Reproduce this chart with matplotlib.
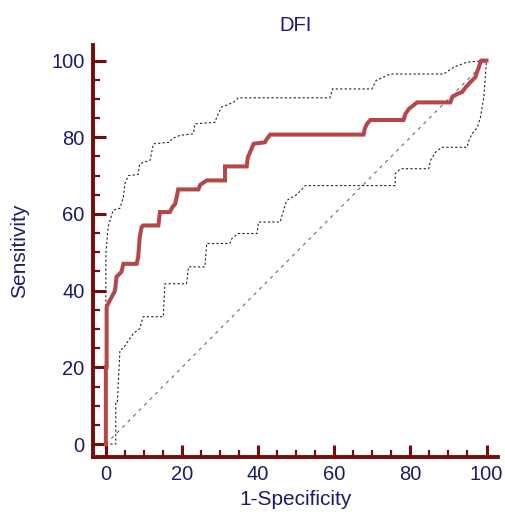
import matplotlib
matplotlib.use("Agg")
import matplotlib.pyplot as plt
from matplotlib.ticker import MultipleLocator

plt.rcParams['font.family'] = ['Liberation Sans', 'DejaVu Sans']

# ROC curve vertices (1-Specificity, Sensitivity)
roc_x = [0, 0, 0.2, 0.2, 0.8, 1.5, 2.4, 2.8, 4.1, 4.6, 8.1, 8.5, 8.9, 9.4, 9.8, 13.8,
         14.2, 16.8, 17.5, 18.2, 18.6, 19, 24.3, 24.8, 26.5, 31.3, 31.3, 37, 37.3,
         37.9, 38.8, 41.8, 42.3, 43.2, 67.7, 68.0, 68.6, 69.5, 78.2, 78.7, 79.6, 81.8,
         90.5, 91.0, 92.3, 93.6, 94.5, 95.8, 97.1, 97.5, 98.0, 98.4, 98.6, 100]
roc_y = [0, 20, 20, 35.7, 37, 38.3, 40, 43.6, 44.9, 47, 47, 48.8, 54, 56.6, 57, 57,
         60.5, 60.5, 61.8, 62.6, 64.4, 66.4, 66.4, 67.6, 68.75, 68.75, 72.4, 72.4, 74.8,
         76.1, 78.3, 78.7, 79.6, 80.7, 80.7, 82.2, 83.5, 84.5, 84.5, 86.1, 87.4, 89.1,
         89.1, 90.5, 91.3, 91.8, 93, 94.4, 95.7, 97, 98.3, 99.6, 100, 100]

# upper 95% confidence bound
upper_x = [0, 0, 0.6, 1.9, 3.7, 4.6, 5.0, 5.9, 8.5, 8.9, 11.6, 12.5, 16.8, 17.3, 19.5,
           23.0, 23.4, 28.7, 29.1, 30.4, 31.5, 33.5, 34.8, 58.9, 59.5, 69.9, 71.0,
           74.7, 88.8, 91.4, 94.9, 100]
upper_y = [0, 49.7, 56.6, 61, 61.5, 64.4, 67.9, 70, 70.3, 73.1, 74, 78.3, 78.7, 79.6,
           80.5, 80.9, 83.5, 83.9, 85.2, 87.9, 88.3, 89.1, 90.3, 90.3, 92.6, 92.6, 94.8,
           96.5, 96.5, 98.3, 99.6, 100]

# lower 95% confidence bound
lower_x = [0, 2.6, 2.6, 3.0, 3.7, 4.6, 5.4, 7.2, 8.9, 9.8, 15.1, 15.5, 21.2, 21.7, 26.0,
           26.5, 32.6, 33.1, 34.8, 39.7, 40.1, 45.8, 46.7, 47.5, 50.2, 52.4, 76.0, 76.0,
           77.4, 84.8, 85.3, 86.6, 88.3, 94.9, 95.4, 96.2, 97.6, 98.4, 99.3, 100]
lower_y = [0, 0, 10.6, 10.6, 24.5, 25, 26.2, 28.8, 30.1, 33.2, 33.2, 41.8, 41.8, 46.2,
           46.2, 52.3, 52.3, 53.6, 54.9, 54.9, 57.9, 57.9, 61.0, 63.5, 65.1, 67.4, 67.4,
           70.5, 71.8, 71.8, 74.0, 76.1, 77.4, 77.4, 79.2, 80.9, 82.6, 85.2, 90.5, 100]

diag = [0, 100]

navy = '#1c1c6c'
spine_col = '#7a0a0a'

fig = plt.figure(figsize=(5.05, 5.20), dpi=100)
ax = fig.add_axes([0.184, 0.121, 0.802, 0.792])

ax.plot(diag, diag, color='#6a6a6a', lw=0.8, dashes=(3, 4))
ax.plot(upper_x, upper_y, color='#222222', lw=0.8, dashes=(2, 2))
ax.plot(lower_x, lower_y, color='#222222', lw=0.8, dashes=(2, 2))
ax.plot(roc_x, roc_y, color='#b5464a', lw=2.9, solid_joinstyle='miter')

ax.set_xlim(-3.4, 103)
ax.set_ylim(-3.4, 104)

ax.spines['top'].set_visible(False)
ax.spines['right'].set_visible(False)
for s in ['left', 'bottom']:
    ax.spines[s].set_color(spine_col)
    ax.spines[s].set_linewidth(2.8)

ax.xaxis.set_major_locator(MultipleLocator(20))
ax.xaxis.set_minor_locator(MultipleLocator(5))
ax.yaxis.set_major_locator(MultipleLocator(20))
ax.yaxis.set_minor_locator(MultipleLocator(5))
ax.tick_params(which='major', direction='in', length=9, width=2.2, color=spine_col,
               labelcolor=navy, labelsize=14.5, pad=6)
ax.tick_params(which='minor', direction='in', length=5, width=1.6, color=spine_col)

ax.set_title('DFI', color=navy, fontsize=14.5, pad=10)
ax.set_xlabel('1-Specificity', color=navy, fontsize=15, labelpad=4)
ax.set_ylabel('Sensitivity', color=navy, fontsize=15, labelpad=16)

fig.savefig('out.png', dpi=100)
